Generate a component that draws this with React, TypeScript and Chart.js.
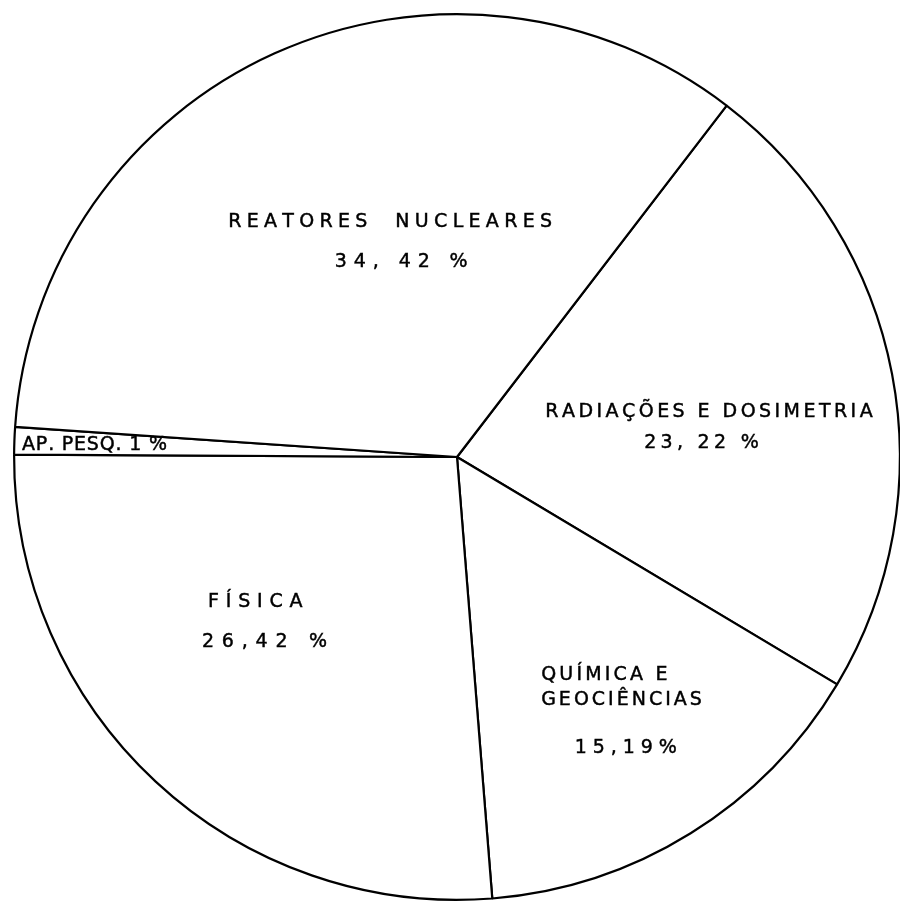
import React, { useEffect, useRef } from "react";
import { Chart, registerables } from "chart.js";

Chart.register(...registerables);

// Distribution by research area (clockwise from the upper-right radius)
const categories = [
  "RADIAÇÕES E DOSIMETRIA",
  "QUÍMICA E GEOCIÊNCIAS",
  "FÍSICA",
  "AP. PESQ.",
  "REATORES NUCLEARES",
];
const shares = [23.22, 15.19, 26.42, 1, 34.42];

// Lettering written inside each slice
const titleLines = [
  ["RADIAÇÕES E DOSIMETRIA"],
  ["QUÍMICA E", "GEOCIÊNCIAS"],
  ["FÍSICA"],
  ["AP. PESQ."],
  ["REATORES  NUCLEARES"],
];
const shareLabels = ["23, 22 %", "15,19%", "26,42 %", "1 %", "34, 42 %"];

type LineStyle = { fx: number; fy: number; align: "left" | "center"; size: number; ls: number };

// Placement of each lettering line, as fractions of the radius from the centre
const labelLayout: LineStyle[][] = [
  [
    { fx: 0.569, fy: -0.102, align: "center", size: 19, ls: 3.45 },
    { fx: 0.552, fy: -0.032, align: "center", size: 19, ls: 4.3 },
  ],
  [
    { fx: 0.19, fy: 0.492, align: "left", size: 19, ls: 3.2 },
    { fx: 0.19, fy: 0.549, align: "left", size: 19, ls: 3.0 },
    { fx: 0.266, fy: 0.657, align: "left", size: 19, ls: 5.9 },
  ],
  [
    { fx: -0.562, fy: 0.327, align: "left", size: 19, ls: 6.8 },
    { fx: -0.576, fy: 0.418, align: "left", size: 19, ls: 7.8 },
  ],
  [{ fx: -0.982, fy: -0.027, align: "left", size: 19, ls: 0.8 }],
  [
    { fx: -0.151, fy: -0.53, align: "center", size: 19, ls: 5.3 },
    { fx: -0.126, fy: -0.44, align: "center", size: 19, ls: 6.9 },
  ],
];

function sliceLines(i: number): string[] {
  if (i === 3) return [titleLines[i][0] + " " + shareLabels[i]];
  return [...titleLines[i], shareLabels[i]];
}

function drawSpaced(
  ctx: CanvasRenderingContext2D,
  text: string,
  x: number,
  y: number,
  align: "left" | "center",
  spacing: number
) {
  const chars = Array.from(text);
  const widths = chars.map((c) => ctx.measureText(c).width);
  const total = widths.reduce((a, b) => a + b, 0) + spacing * (chars.length - 1);
  let cx = align === "center" ? x - total / 2 : x;
  ctx.textAlign = "left";
  chars.forEach((c, k) => {
    ctx.fillText(c, cx, y);
    ctx.strokeText(c, cx, y);
    cx += widths[k] + spacing;
  });
}

const sliceLabelPlugin = {
  id: "sliceLabels",
  afterDatasetsDraw(chart: any) {
    const arc = chart.getDatasetMeta(0).data[0];
    if (!arc) return;
    const cx = arc.x;
    const cy = arc.y;
    const r = arc.outerRadius;
    const ctx: CanvasRenderingContext2D = chart.ctx;
    ctx.save();
    ctx.fillStyle = "#000000";
    ctx.strokeStyle = "#000000";
    ctx.lineWidth = 0.45;
    ctx.textBaseline = "middle";
    categories.forEach((_, i) => {
      sliceLines(i).forEach((text, j) => {
        const l = labelLayout[i][j];
        ctx.font = `${l.size}px "DejaVu Sans", sans-serif`;
        drawSpaced(ctx, text, cx + l.fx * r, cy + l.fy * r, l.align, l.ls);
      });
    });
    ctx.restore();
  },
};

export default function App() {
  const canvasRef = useRef<HTMLCanvasElement | null>(null);

  useEffect(() => {
    if (!canvasRef.current) return;
    const chart = new Chart(canvasRef.current, {
      type: "pie",
      data: {
        labels: categories,
        datasets: [
          {
            data: shares,
            backgroundColor: "#ffffff",
            borderColor: "#000000",
            borderWidth: 2.2,
            hoverBorderWidth: 2.2,
            borderAlign: "center",
          },
        ],
      },
      options: {
        animation: false,
        responsive: false,
        maintainAspectRatio: false,
        devicePixelRatio: 1,
        rotation: 37.5,
        layout: { padding: 16 },
        plugins: {
          legend: { display: false },
          tooltip: { enabled: false },
        },
      },
      plugins: [sliceLabelPlugin],
    });
    return () => chart.destroy();
  }, []);

  return (
    <div
      style={{
        position: "fixed",
        left: 0,
        top: 0,
        width: 900,
        height: 901,
        overflow: "hidden",
        background: "#ffffff",
      }}
    >
      <canvas
        ref={canvasRef}
        width={920}
        height={920}
        style={{ position: "absolute", left: -3, top: -3, width: 920, height: 920 }}
      />
    </div>
  );
}
